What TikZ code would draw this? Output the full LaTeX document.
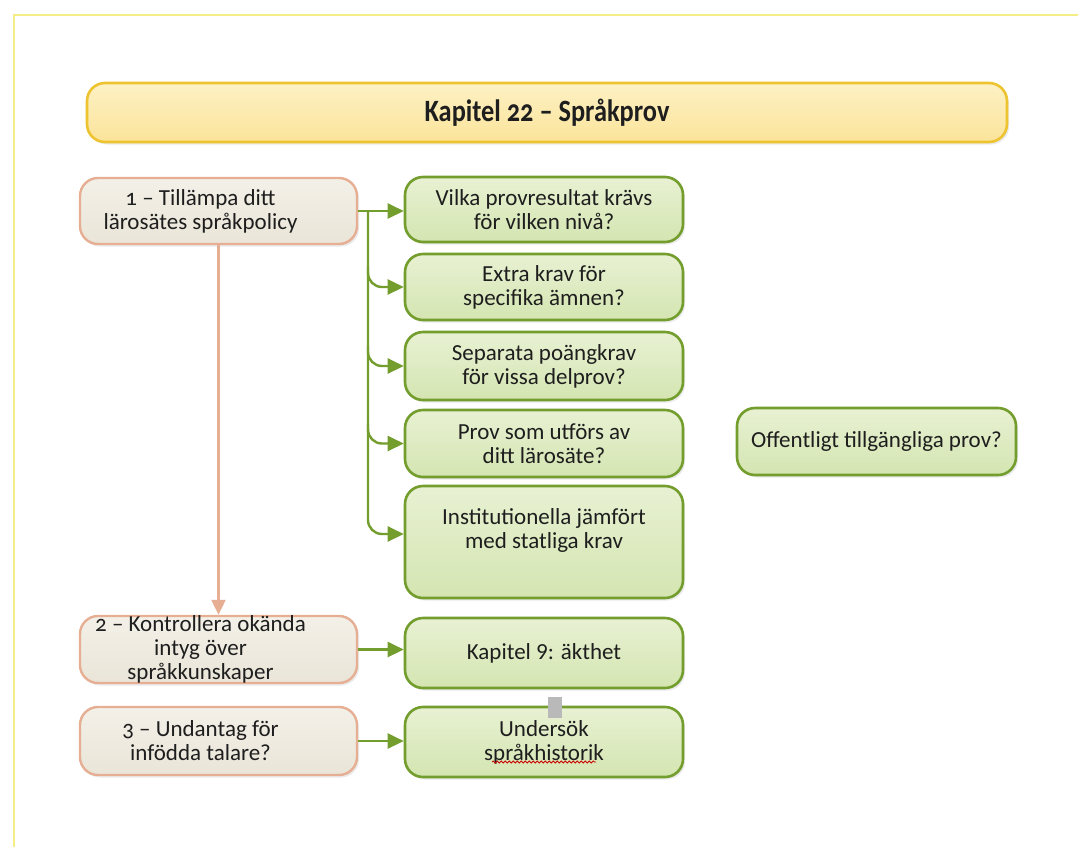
\documentclass[tikz,border=0pt]{standalone}
\usepackage{fontspec}
\setmainfont{Carlito}
\newfontfamily\bannerfont{Carlito}[FakeStretch=0.85, Numbers=OldStyle]
\usetikzlibrary{arrows.meta,shadows,calc,decorations.pathmorphing}
\definecolor{frameyellow}{HTML}{F4EE86}
\definecolor{titletop}{HTML}{FDF1C4}
\definecolor{titlebot}{HTML}{FBE49A}
\definecolor{titleline}{HTML}{EDC430}
\definecolor{beigetop}{HTML}{F3F0E8}
\definecolor{beigebot}{HTML}{EAE5D8}
\definecolor{beigeline}{HTML}{E6AF94}
\definecolor{greentop}{HTML}{E8F1D3}
\definecolor{greenbot}{HTML}{D4E5B1}
\definecolor{greenline}{HTML}{739D2C}
\definecolor{textdark}{HTML}{1E1E1E}
\newcommand{\onum}[1]{{\addfontfeatures{Numbers=OldStyle}#1}}
\begin{document}
\begin{tikzpicture}[x=1pt,y=-1pt,
  every node/.style={font=\fontsize{23}{24}\selectfont, text=textdark},
  box/.style={rounded corners=18pt, inner sep=0pt, align=center},
  softshadow/.style={drop shadow={opacity=0.16, shadow xshift=2pt, shadow yshift=-2.5pt}},
  greenbox/.style={box, softshadow, draw=greenline, line width=2.6pt,
    top color=greentop, bottom color=greenbot, minimum width=278pt},
  beigebox/.style={box, softshadow, draw=beigeline, line width=2.4pt,
    top color=beigetop, bottom color=beigebot, minimum width=277pt},
  beigetext/.style={align=center, xshift=-18pt},
  titlebox/.style={box, softshadow, draw=titleline, line width=2.6pt,
    top color=titletop, bottom color=titlebot, minimum width=920pt, minimum height=59pt,
    font=\bannerfont\fontsize{31}{34}\selectfont\bfseries},
  garrow/.style={draw=greenline, line width=2.4pt, -{Triangle[length=16pt,width=15pt]}},
  barrow/.style={draw=beigeline, line width=2.2pt, -{Triangle[length=15pt,width=14pt]}}
]
\useasboundingbox (0,0) rectangle (1078,847);
\fill[white] (0,0) rectangle (1078,847);

% page frame
\draw[frameyellow, line width=2.5pt] (14,847) -- (14,15) -- (1078,15);

% title banner
\node[titlebox] (title) at (547,112.5) {Kapitel 22 – Språkprov};

% left column: steps
\node[beigebox, minimum height=66pt,
  label={[beigetext]center:\onum{1} – Tillämpa ditt\\lärosätes språkpolicy}] (b1) at (218.5,211) {};
\node[beigebox, minimum height=67pt,
  label={[beigetext]center:\onum{2} – Kontrollera okända\\intyg över\\språkkunskaper}] (b2) at (218.5,649.5) {};
\node[beigebox, minimum height=68pt,
  label={[beigetext]center:\onum{3} – Undantag för\\infödda talare?}] (b3) at (218.5,741) {};

% middle column: questions
\node[greenbox, minimum height=65pt] (g1) at (544,209.5) {Vilka provresultat krävs\\ för vilken nivå?};
\node[greenbox, minimum height=66pt] (g2) at (544,287) {Extra krav för\\specifika ämnen?};
\node[greenbox, minimum height=68pt] (g3) at (544,366) {Separata poängkrav\\för vissa delprov?};
\node[greenbox, minimum height=67pt] (g4) at (544,443.5) {Prov som utförs av\\ditt lärosäte?};
\node[greenbox, minimum height=112pt] (g5) at (544,542) {Institutionella jämfört\\med statliga krav\\[2pt]~};
\node[greenbox, minimum height=70pt] (g6) at (544,653) {Kapitel 9: äkthet};
\node[greenbox, minimum height=70pt] (g7) at (544,742) {Undersök\\språkhistorik};

% right column
\node[greenbox, minimum width=279pt, minimum height=67pt] (off) at (876.5,441.5) {Offentligt tillgängliga prov?};

% connectors
\coordinate (tk) at (368,0);
\draw[garrow] (b1.east) -- (b1.east -| g1.west);
\draw[garrow, rounded corners=14pt] (b1.east -| tk) |- ($(g5.west)+(0,-8)$);
\foreach \g in {g2,g3,g4}
  \draw[garrow, rounded corners=14pt] ($(tk |- \g.west)+(0,-20)$) |- (\g.west);
\draw[barrow] (b1.south) -- (b2.north);
\draw[garrow] (b2.east) -- (b2.east -| g6.west);
\draw[garrow] (b3.east) -- (b3.east -| g7.west);

% spell-check squiggle and stray marker
\draw[red!80!black, line width=0.8pt, decorate,
  decoration={snake, amplitude=1pt, segment length=4pt}]
  ($(g7.center)+(-52,20)$) -- ($(g7.center)+(52,20)$);
\fill[gray!55] (548,697) rectangle (562,718);
\end{tikzpicture}
\end{document}
